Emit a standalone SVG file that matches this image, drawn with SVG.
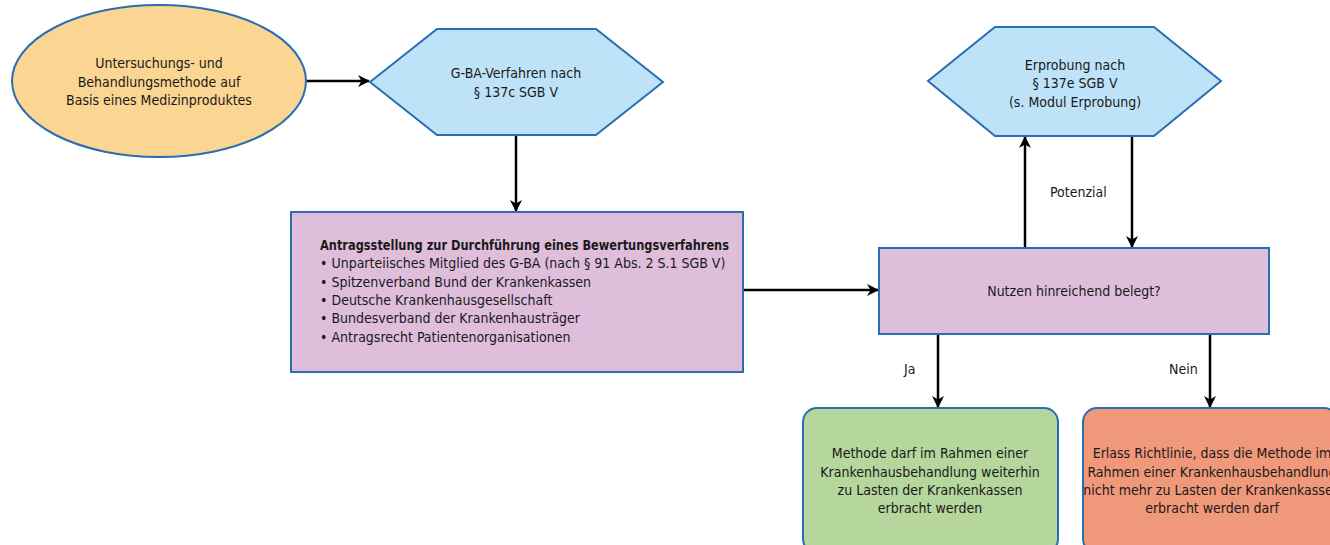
<svg xmlns="http://www.w3.org/2000/svg" width="1330" height="545" viewBox="0 0 1330 545">
<defs>
<marker id="ah" viewBox="0 0 12 12" refX="11" refY="6" markerWidth="12" markerHeight="12" markerUnits="userSpaceOnUse" orient="auto">
<path d="M0,0 L12,6 L0,12 L3.5,6 z" fill="#000"/>
</marker>
<style>
.t{font-family:"Liberation Sans Narrow","DejaVu Sans Condensed","Liberation Sans",sans-serif;font-size:14px;fill:#1a1a1a}
.c{text-anchor:middle}
.b{font-weight:bold}
.n{stroke:#2A6DB0;stroke-width:2}
.e{stroke:#000;stroke-width:2.5;fill:none;marker-end:url(#ah)}
</style>
</defs>
<g id="connectors">
<line class="e" x1="306" y1="81" x2="369" y2="81"/>
<line class="e" x1="516" y1="135" x2="516" y2="211"/>
<line class="e" x1="743" y1="290" x2="878" y2="290"/>
<line class="e" x1="1025" y1="247" x2="1025" y2="137"/>
<line class="e" x1="1132" y1="137" x2="1132" y2="247"/>
<line class="e" x1="938" y1="335" x2="938" y2="407"/>
<line class="e" x1="1210" y1="335" x2="1210" y2="407"/>
<text class="t" x="1050" y="197">Potenzial</text>
<text class="t" x="904" y="374">Ja</text>
<text class="t" x="1169" y="374">Nein</text>
</g>
<g id="start">
<ellipse class="n" cx="159" cy="81" rx="147" ry="76" fill="#FBD592"/>
<text class="t c" x="159" y="68">Untersuchungs- und</text>
<text class="t c" x="159" y="87">Behandlungsmethode auf</text>
<text class="t c" x="159" y="105">Basis eines Medizinproduktes</text>
</g>
<g id="gba">
<polygon class="n" points="370,82 437,29 596,29 663,82 596,135 437,135" fill="#BEE3F8"/>
<text class="t c" x="516" y="78">G-BA-Verfahren nach</text>
<text class="t c" x="516" y="97">§ 137c SGB V</text>
</g>
<g id="antrag">
<rect class="n" x="291" y="212" width="452" height="160" fill="#DFBEDC"/>
<text class="t b" x="320" y="250" textLength="409" lengthAdjust="spacingAndGlyphs">Antragsstellung zur Durchführung eines Bewertungsverfahrens</text>
<text class="t" x="320" y="268">• Unparteiisches Mitglied des G-BA (nach § 91 Abs. 2 S.1 SGB V)</text>
<text class="t" x="320" y="287">• Spitzenverband Bund der Krankenkassen</text>
<text class="t" x="320" y="305">• Deutsche Krankenhausgesellschaft</text>
<text class="t" x="320" y="323">• Bundesverband der Krankenhausträger</text>
<text class="t" x="320" y="342">• Antragsrecht Patientenorganisationen</text>
</g>
<g id="erprobung">
<polygon class="n" points="928,81 995,27 1154,27 1221,81 1154,136 995,136" fill="#BEE3F8"/>
<text class="t c" x="1075" y="70">Erprobung nach</text>
<text class="t c" x="1075" y="88">§ 137e SGB V</text>
<text class="t c" x="1075" y="107">(s. Modul Erprobung)</text>
</g>
<g id="nutzen">
<rect class="n" x="879" y="248" width="390" height="86" fill="#DFBEDC"/>
<text class="t c" x="1074" y="296">Nutzen hinreichend belegt?</text>
</g>
<g id="ja">
<rect class="n" x="803" y="408" width="255" height="145" rx="14" fill="#B5D69C"/>
<text class="t c" x="930" y="458">Methode darf im Rahmen einer</text>
<text class="t c" x="930" y="477">Krankenhausbehandlung weiterhin</text>
<text class="t c" x="930" y="495">zu Lasten der Krankenkassen</text>
<text class="t c" x="930" y="513">erbracht werden</text>
</g>
<g id="nein">
<rect class="n" x="1083" y="408" width="255" height="145" rx="14" fill="#F0987A"/>
<text class="t c" x="1212" y="458">Erlass Richtlinie, dass die Methode im</text>
<text class="t c" x="1212" y="477">Rahmen einer Krankenhausbehandlung</text>
<text class="t c" x="1212" y="495">nicht mehr zu Lasten der Krankenkassen</text>
<text class="t c" x="1212" y="513">erbracht werden darf</text>
</g>
</svg>
